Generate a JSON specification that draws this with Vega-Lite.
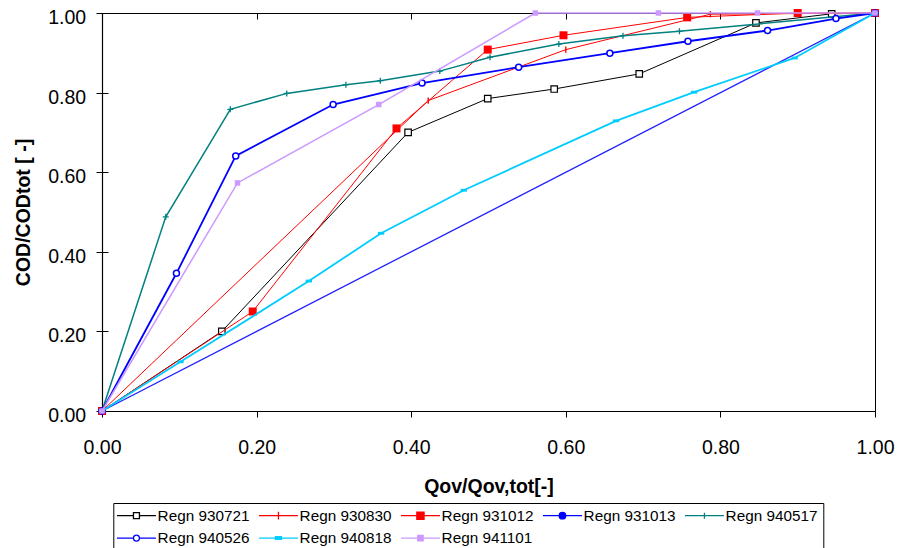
{
  "$schema": "https://vega.github.io/schema/vega-lite/v6.json",
  "width": 773,
  "height": 398,
  "autosize": {"type": "none"},
  "padding": {"left": 102, "top": 13, "right": 31, "bottom": 137},
  "background": "white",
  "config": {
    "font": "Liberation Sans",
    "view": {"stroke": "#000000", "strokeWidth": 1},
    "axis": {
      "domainColor": "#000000",
      "domainWidth": 1.2,
      "tickColor": "#000000",
      "tickSize": 6,
      "tickWidth": 1,
      "labelColor": "#000000",
      "labelFont": "Liberation Sans",
      "labelFontSize": 19.5,
      "labelOverlap": false,
      "labelFlush": false,
      "titleColor": "#000000",
      "titleFont": "Liberation Sans",
      "titleFontWeight": "bold",
      "titleFontSize": 19.5,
      "grid": true,
      "gridColor": "#000000",
      "gridWidth": 1,
      "gridDash": [6, 2000],
      "gridOpacity": 1
    },
    "legend": {
      "orient": "none",
      "legendX": 11.3,
      "legendY": 490,
      "columns": 5,
      "direction": "horizontal",
      "padding": 5,
      "strokeColor": "#000000",
      "fillColor": "#ffffff",
      "symbolSize": 36,
      "symbolStrokeWidth": 1.3,
      "symbolOffset": 10.5,
      "symbolOpacity": 1,
      "labelOffset": 13.5,
      "labelFont": "Liberation Sans",
      "labelFontSize": 15.3,
      "labelColor": "#000000",
      "labelLimit": 300,
      "columnPadding": 6,
      "rowPadding": 6.4
    }
  },
  "data": {
    "values": [
      {"s": "Regn 930721", "x": 0, "y": 0},
      {"s": "Regn 930721", "x": 0.155, "y": 0.2},
      {"s": "Regn 930721", "x": 0.396, "y": 0.7},
      {"s": "Regn 930721", "x": 0.499, "y": 0.785},
      {"s": "Regn 930721", "x": 0.585, "y": 0.809},
      {"s": "Regn 930721", "x": 0.695, "y": 0.847},
      {"s": "Regn 930721", "x": 0.846, "y": 0.975},
      {"s": "Regn 930721", "x": 0.944, "y": 0.998},
      {"s": "Regn 930721", "x": 1, "y": 1},
      {"s": "Regn 930830", "x": 0, "y": 0},
      {"s": "Regn 930830", "x": 0.422, "y": 0.78},
      {"s": "Regn 930830", "x": 0.6, "y": 0.908},
      {"s": "Regn 930830", "x": 0.787, "y": 0.997},
      {"s": "Regn 930830", "x": 1, "y": 1},
      {"s": "Regn 931012", "x": 0, "y": 0},
      {"s": "Regn 931012", "x": 0.195, "y": 0.25},
      {"s": "Regn 931012", "x": 0.381, "y": 0.71},
      {"s": "Regn 931012", "x": 0.499, "y": 0.908},
      {"s": "Regn 931012", "x": 0.597, "y": 0.944},
      {"s": "Regn 931012", "x": 0.757, "y": 0.989},
      {"s": "Regn 931012", "x": 0.9, "y": 1},
      {"s": "Regn 931012", "x": 1, "y": 1},
      {"s": "Regn 931013", "x": 0, "y": 0},
      {"s": "Regn 931013", "x": 1, "y": 1},
      {"s": "Regn 940517", "x": 0, "y": 0},
      {"s": "Regn 940517", "x": 0.0825, "y": 0.488},
      {"s": "Regn 940517", "x": 0.166, "y": 0.758},
      {"s": "Regn 940517", "x": 0.239, "y": 0.798},
      {"s": "Regn 940517", "x": 0.3155, "y": 0.82},
      {"s": "Regn 940517", "x": 0.36, "y": 0.83},
      {"s": "Regn 940517", "x": 0.437, "y": 0.854},
      {"s": "Regn 940517", "x": 0.502, "y": 0.889},
      {"s": "Regn 940517", "x": 0.591, "y": 0.922},
      {"s": "Regn 940517", "x": 0.674, "y": 0.943},
      {"s": "Regn 940517", "x": 0.747, "y": 0.954},
      {"s": "Regn 940517", "x": 1, "y": 1},
      {"s": "Regn 940526", "x": 0, "y": 0},
      {"s": "Regn 940526", "x": 0.0963, "y": 0.346},
      {"s": "Regn 940526", "x": 0.173, "y": 0.641},
      {"s": "Regn 940526", "x": 0.299, "y": 0.77},
      {"s": "Regn 940526", "x": 0.414, "y": 0.824},
      {"s": "Regn 940526", "x": 0.539, "y": 0.864},
      {"s": "Regn 940526", "x": 0.657, "y": 0.899},
      {"s": "Regn 940526", "x": 0.758, "y": 0.929},
      {"s": "Regn 940526", "x": 0.861, "y": 0.956},
      {"s": "Regn 940526", "x": 0.9495, "y": 0.986},
      {"s": "Regn 940526", "x": 1, "y": 1},
      {"s": "Regn 940818", "x": 0, "y": 0},
      {"s": "Regn 940818", "x": 0.1015, "y": 0.1235},
      {"s": "Regn 940818", "x": 0.2676, "y": 0.3265},
      {"s": "Regn 940818", "x": 0.361, "y": 0.4465},
      {"s": "Regn 940818", "x": 0.468, "y": 0.5547},
      {"s": "Regn 940818", "x": 0.665, "y": 0.729},
      {"s": "Regn 940818", "x": 0.766, "y": 0.801},
      {"s": "Regn 940818", "x": 0.896, "y": 0.887},
      {"s": "Regn 940818", "x": 1, "y": 1},
      {"s": "Regn 941101", "x": 0, "y": 0},
      {"s": "Regn 941101", "x": 0.1753, "y": 0.573},
      {"s": "Regn 941101", "x": 0.358, "y": 0.77},
      {"s": "Regn 941101", "x": 0.5606, "y": 1},
      {"s": "Regn 941101", "x": 0.7198, "y": 1},
      {"s": "Regn 941101", "x": 0.848, "y": 1},
      {"s": "Regn 941101", "x": 1, "y": 1}
    ]
  },
  "encoding": {
    "x": {
      "field": "x",
      "type": "quantitative",
      "scale": {"domain": [0, 1], "nice": false},
      "axis": {
        "title": "Qov/Qov,tot[-]",
        "values": [0, 0.2, 0.4, 0.6, 0.8, 1],
        "format": ".2f",
        "labelPadding": 21,
        "titlePadding": 21
      }
    },
    "y": {
      "field": "y",
      "type": "quantitative",
      "scale": {"domain": [0, 1], "nice": false},
      "axis": {
        "title": "COD/CODtot [ -]",
        "values": [0, 0.2, 0.4, 0.6, 0.8, 1],
        "format": ".2f",
        "labelPadding": 10.3,
        "labelOffset": 4.5,
        "titlePadding": 14
      }
    }
  },
  "layer": [
    {
      "transform": [{"filter": "datum.s === 'Regn 930721'"}],
      "mark": {"type": "line", "color": "#000000", "strokeWidth": 1}
    },
    {
      "transform": [{"filter": "datum.s === 'Regn 930721'"}],
      "mark": {"type": "point", "shape": "square", "size": 42, "filled": true, "fill": "#ffffff", "stroke": "#000000", "strokeWidth": 1.2, "opacity": 1}
    },
    {
      "transform": [{"filter": "datum.s === 'Regn 930830'"}],
      "mark": {"type": "line", "color": "#ff0000", "strokeWidth": 1}
    },
    {
      "transform": [{"filter": "datum.s === 'Regn 930830'"}],
      "mark": {"type": "point", "shape": "M0,-1V1", "size": 40, "filled": false, "stroke": "#ff0000", "strokeWidth": 1.4, "opacity": 1}
    },
    {
      "transform": [{"filter": "datum.s === 'Regn 931012'"}],
      "mark": {"type": "line", "color": "#ff0000", "strokeWidth": 1}
    },
    {
      "transform": [{"filter": "datum.s === 'Regn 931012'"}],
      "mark": {"type": "point", "shape": "square", "size": 64, "filled": true, "fill": "#ff0000", "strokeWidth": 0, "opacity": 1}
    },
    {
      "transform": [{"filter": "datum.s === 'Regn 931013'"}],
      "mark": {"type": "line", "color": "#2020ff", "strokeWidth": 1.3}
    },
    {
      "transform": [{"filter": "datum.s === 'Regn 931013'"}],
      "mark": {"type": "point", "shape": "circle", "size": 30, "filled": true, "fill": "#0000ff", "strokeWidth": 0, "opacity": 1}
    },
    {
      "transform": [{"filter": "datum.s === 'Regn 940517'"}],
      "mark": {"type": "line", "color": "#008080", "strokeWidth": 1.5}
    },
    {
      "transform": [{"filter": "datum.s === 'Regn 940517'"}],
      "mark": {"type": "point", "shape": "M-1,0H1M0,-1V1", "size": 36, "filled": false, "stroke": "#008080", "strokeWidth": 1.3, "opacity": 1}
    },
    {
      "transform": [{"filter": "datum.s === 'Regn 940526'"}],
      "mark": {"type": "line", "color": "#0000ff", "strokeWidth": 1.8}
    },
    {
      "transform": [{"filter": "datum.s === 'Regn 940526'"}],
      "mark": {"type": "point", "shape": "circle", "size": 36, "filled": true, "fill": "#ffffff", "stroke": "#0000ff", "strokeWidth": 1.5, "opacity": 1}
    },
    {
      "transform": [{"filter": "datum.s === 'Regn 940818'"}],
      "mark": {"type": "line", "color": "#00ccff", "strokeWidth": 1.8}
    },
    {
      "transform": [{"filter": "datum.s === 'Regn 940818'"}],
      "mark": {"type": "point", "shape": "M-1,-0.45H1V0.45H-1Z", "size": 40, "filled": true, "fill": "#00ccff", "strokeWidth": 0, "opacity": 1}
    },
    {
      "transform": [{"filter": "datum.s === 'Regn 941101'"}],
      "mark": {"type": "line", "color": "#cc99ff", "strokeWidth": 1.5}
    },
    {
      "transform": [{"filter": "datum.s === 'Regn 941101'"}],
      "mark": {"type": "point", "shape": "square", "size": 30, "filled": true, "fill": "#cc99ff", "strokeWidth": 0, "opacity": 1}
    },
    {
      "description": "Legend only: no rows pass the filter, the scales carry the series list.",
      "transform": [{"filter": "false"}],
      "mark": {"type": "point", "filled": true, "opacity": 1},
      "encoding": {
        "shape": {
          "field": "s",
          "type": "nominal",
          "legend": {"title": null},
          "scale": {
            "domain": ["Regn 930721", "Regn 930830", "Regn 931012", "Regn 931013", "Regn 940517", "Regn 940526", "Regn 940818", "Regn 941101"],
            "range": [
              "M-6.5,0H-1M1,0H6.5M-1,-1H1V1H-1Z",
              "M-6.5,0H6.5M0,-1.3V1.3",
              "M-6.5,0H6.5M-1.2,-1.2H1.2V1.2H-1.2Z",
              "M-6.5,0H6.5M1.1,0A1.1,1.1,0,1,1,-1.1,0A1.1,1.1,0,1,1,1.1,0Z",
              "M-6.5,0H6.5M0,-1V1",
              "M-6.5,0H-1M1,0H6.5M1,0A1,1,0,1,1,-1,0A1,1,0,1,1,1,0Z",
              "M-6.5,0H6.5M-1,-0.45H1V0.45H-1Z",
              "M-6.5,0H6.5M-0.9,-0.9H0.9V0.9H-0.9Z"
            ]
          }
        },
        "stroke": {
          "field": "s",
          "type": "nominal",
          "legend": {"title": null},
          "scale": {
            "domain": ["Regn 930721", "Regn 930830", "Regn 931012", "Regn 931013", "Regn 940517", "Regn 940526", "Regn 940818", "Regn 941101"],
            "range": ["#000000", "#ff0000", "#ff0000", "#0000ff", "#008080", "#0000ff", "#00ccff", "#cc99ff"]
          }
        },
        "fill": {
          "field": "s",
          "type": "nominal",
          "legend": {"title": null},
          "scale": {
            "domain": ["Regn 930721", "Regn 930830", "Regn 931012", "Regn 931013", "Regn 940517", "Regn 940526", "Regn 940818", "Regn 941101"],
            "range": ["#ffffff", "#ff0000", "#ff0000", "#0000ff", "#008080", "#ffffff", "#00ccff", "#cc99ff"]
          }
        }
      }
    }
  ]
}
